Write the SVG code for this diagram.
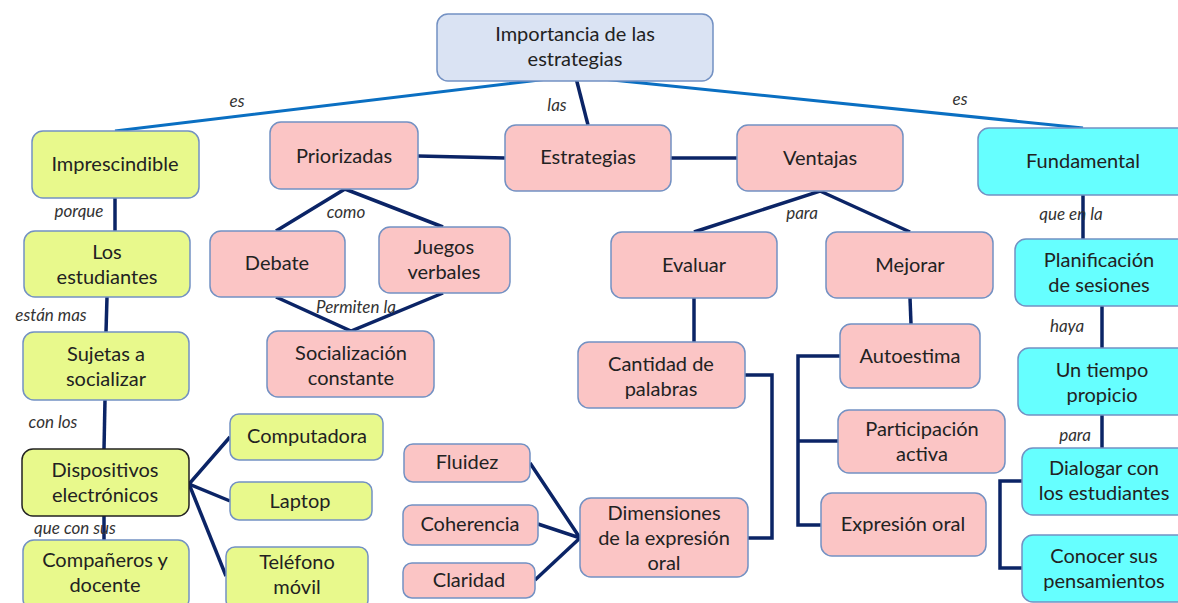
<svg xmlns="http://www.w3.org/2000/svg" width="1178" height="603" viewBox="0 0 1178 603">
<style>
.n rect{stroke:#7391c3;stroke-width:1.5}
.g rect{fill:#e8f98c}
.p rect{fill:#fbc5c5}
.c rect{fill:#66ffff}
.b rect{fill:#dae3f3}
.n text{font-family:Lato,"Open Sans",sans-serif;font-size:20px;fill:#222;text-anchor:middle}
.l{font-family:Lato,"Open Sans",sans-serif;font-size:17px;font-style:italic;fill:#333;text-anchor:middle}
.k{fill:none;stroke:#0b2466;stroke-width:3.5}
.t{fill:none;stroke:#0a6fc2;stroke-width:3}
</style>
<g id="connectors">
<polyline class="t" points="115,131 573,76 1083,128"/>
<line class="k" x1="576" y1="78" x2="588" y2="125"/>
<line class="k" x1="418" y1="156" x2="505" y2="158"/>
<line class="k" x1="671" y1="158" x2="737" y2="158"/>
<polyline class="k" points="276,231 345,189 443,227"/>
<polyline class="k" points="276,297 351,331 443,293"/>
<polyline class="k" points="694,232 820,191 910,232"/>
<line class="k" x1="694" y1="298" x2="694" y2="342"/>
<line class="k" x1="910" y1="298" x2="911" y2="324"/>
<polyline class="k" points="745,375 772,375 772,538 748,538"/>
<polyline class="k" points="840,356 798,356 798,525 821,525"/>
<line class="k" x1="798" y1="441" x2="838" y2="441"/>
<polyline class="k" points="530,463 580,538 538,524"/>
<line class="k" x1="580" y1="538" x2="535" y2="580"/>
<line class="k" x1="115" y1="198" x2="115" y2="231"/>
<line class="k" x1="107" y1="297" x2="106" y2="332"/>
<line class="k" x1="105" y1="400" x2="104" y2="449"/>
<line class="k" x1="104" y1="516" x2="104" y2="540"/>
<polyline class="k" points="230,437 189,484 230,501"/>
<line class="k" x1="189" y1="484" x2="226" y2="576"/>
<line class="k" x1="1083" y1="195" x2="1083" y2="239"/>
<line class="k" x1="1102" y1="306" x2="1102" y2="348"/>
<line class="k" x1="1102" y1="415" x2="1102" y2="448"/>
<polyline class="k" points="1022,481 1000,481 1000,568 1022,568"/>
<text class="l" x="237" y="107">es</text>
<text class="l" x="960" y="105">es</text>
<text class="l" x="557" y="111">las</text>
<text class="l" x="346" y="218">como</text>
<text class="l" x="356" y="313">Permiten la</text>
<text class="l" x="802" y="219">para</text>
<text class="l" x="79" y="217">porque</text>
<text class="l" x="51" y="321">están mas</text>
<text class="l" x="53" y="428">con los</text>
<text class="l" x="75" y="534">que con sus</text>
<text class="l" x="1071" y="220">que en la</text>
<text class="l" x="1067" y="332">haya</text>
<text class="l" x="1075" y="441">para</text>
</g>
<g id="n-top" class="n b"><rect x="437" y="14" width="276" height="67" rx="11"/><text x="575" y="41">Importancia de las</text><text x="575" y="66">estrategias</text></g>
<g id="n-imprescindible" class="n g"><rect x="32" y="131" width="167" height="67" rx="11"/><text x="115" y="171">Imprescindible</text></g>
<g id="n-priorizadas" class="n p"><rect x="270" y="122" width="148" height="67" rx="11"/><text x="344" y="163">Priorizadas</text></g>
<g id="n-estrategias" class="n p"><rect x="505" y="125" width="166" height="66" rx="11"/><text x="588" y="164">Estrategias</text></g>
<g id="n-ventajas" class="n p"><rect x="737" y="125" width="166" height="66" rx="11"/><text x="820" y="165">Ventajas</text></g>
<g id="n-fundamental" class="n c"><rect x="978" y="128" width="212" height="67" rx="11"/><text x="1083" y="168">Fundamental</text></g>
<g id="n-estudiantes" class="n g"><rect x="24" y="231" width="166" height="66" rx="11"/><text x="107" y="259">Los</text><text x="107" y="284">estudiantes</text></g>
<g id="n-sujetas" class="n g"><rect x="23" y="332" width="166" height="68" rx="11"/><text x="106" y="361">Sujetas a</text><text x="106" y="386">socializar</text></g>
<g id="n-dispositivos" class="n g"><rect x="22" y="449" width="167" height="67" rx="11" style="stroke:#222"/><text x="105" y="477">Dispositivos</text><text x="105" y="502">electrónicos</text></g>
<g id="n-companeros" class="n g"><rect x="23" y="540" width="166" height="70" rx="11"/><text x="105" y="567">Compañeros y</text><text x="105" y="592">docente</text></g>
<g id="n-computadora" class="n g"><rect x="230" y="414" width="153" height="46" rx="9"/><text x="307" y="443">Computadora</text></g>
<g id="n-laptop" class="n g"><rect x="230" y="482" width="142" height="38" rx="9"/><text x="300" y="508">Laptop</text></g>
<g id="n-telefono" class="n g"><rect x="226" y="547" width="142" height="62" rx="9"/><text x="297" y="569">Teléfono</text><text x="297" y="594">móvil</text></g>
<g id="n-debate" class="n p"><rect x="210" y="231" width="135" height="66" rx="11"/><text x="277" y="270">Debate</text></g>
<g id="n-juegos" class="n p"><rect x="379" y="227" width="131" height="66" rx="11"/><text x="444" y="254">Juegos</text><text x="444" y="279">verbales</text></g>
<g id="n-socializacion" class="n p"><rect x="267" y="331" width="167" height="66" rx="11"/><text x="351" y="360">Socialización</text><text x="351" y="385">constante</text></g>
<g id="n-evaluar" class="n p"><rect x="611" y="232" width="166" height="66" rx="11"/><text x="694" y="272">Evaluar</text></g>
<g id="n-mejorar" class="n p"><rect x="826" y="232" width="167" height="66" rx="11"/><text x="910" y="272">Mejorar</text></g>
<g id="n-cantidad" class="n p"><rect x="578" y="342" width="167" height="66" rx="11"/><text x="661" y="371">Cantidad de</text><text x="661" y="396">palabras</text></g>
<g id="n-autoestima" class="n p"><rect x="840" y="324" width="140" height="64" rx="11"/><text x="910" y="363">Autoestima</text></g>
<g id="n-participacion" class="n p"><rect x="838" y="410" width="167" height="63" rx="11"/><text x="922" y="436">Participación</text><text x="922" y="461">activa</text></g>
<g id="n-expresion" class="n p"><rect x="821" y="493" width="165" height="63" rx="11"/><text x="903" y="531">Expresión oral</text></g>
<g id="n-fluidez" class="n p"><rect x="404" y="444" width="126" height="38" rx="9"/><text x="467" y="469">Fluidez</text></g>
<g id="n-coherencia" class="n p"><rect x="403" y="505" width="135" height="40" rx="9"/><text x="470" y="531">Coherencia</text></g>
<g id="n-claridad" class="n p"><rect x="403" y="563" width="132" height="35" rx="9"/><text x="469" y="587">Claridad</text></g>
<g id="n-dimensiones" class="n p"><rect x="580" y="498" width="168" height="79" rx="11"/><text x="664" y="520">Dimensiones</text><text x="664" y="545">de la expresión</text><text x="664" y="570">oral</text></g>
<g id="n-planificacion" class="n c"><rect x="1015" y="239" width="175" height="67" rx="11"/><text x="1099" y="267">Planificación</text><text x="1099" y="292">de sesiones</text></g>
<g id="n-tiempo" class="n c"><rect x="1018" y="348" width="172" height="67" rx="11"/><text x="1102" y="377">Un tiempo</text><text x="1102" y="402">propicio</text></g>
<g id="n-dialogar" class="n c"><rect x="1022" y="448" width="168" height="67" rx="11"/><text x="1104" y="475">Dialogar con</text><text x="1104" y="500">los estudiantes</text></g>
<g id="n-conocer" class="n c"><rect x="1022" y="535" width="168" height="67" rx="11"/><text x="1104" y="563">Conocer sus</text><text x="1104" y="588">pensamientos</text></g>
</svg>
